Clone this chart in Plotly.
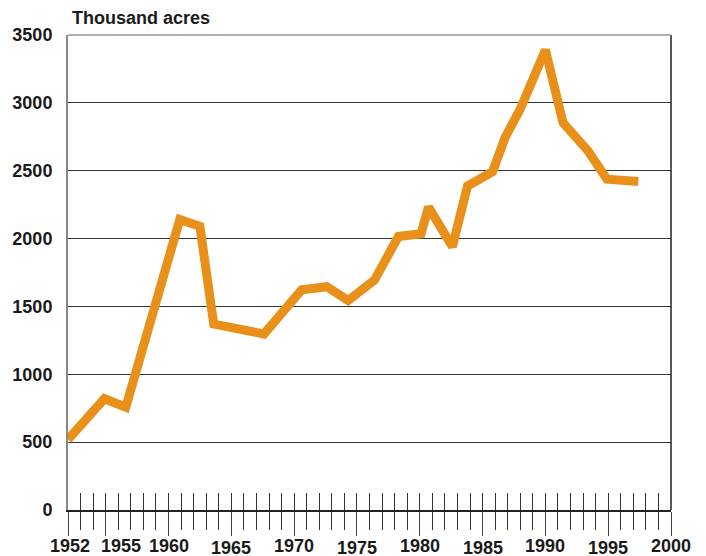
import plotly.graph_objects as go

# ---- data ----
years = [1952, 1954.9, 1956.6, 1960.9, 1962.5, 1963.6, 1967.6, 1970.6, 1972.6,
         1974.3, 1976.4, 1978.3, 1980.1, 1980.7, 1982.6, 1983.8, 1985.8, 1986.8,
         1988.0, 1990.0, 1991.4, 1993.4, 1994.9, 1997.4]
acres = [520, 820, 757, 2140, 2090, 1370, 1297, 1623, 1645,
         1543, 1695, 2015, 2035, 2232, 1940, 2387, 2493, 2746,
         2954, 3390, 2854, 2646, 2437, 2420]

y_ticks = [0, 500, 1000, 1500, 2000, 2500, 3000, 3500]
x_label_years = [1952, 1955, 1960, 1965, 1970, 1975, 1980, 1985, 1990, 1995, 2000]
x_major_ticks = [1952, 1955, 1960, 1965, 1970, 1975, 1980, 1985, 1990, 1995, 2000]
y_title = "Thousand acres"

FONT = "Liberation Sans, Arial, Helvetica, sans-serif"
TXT = "#1a1a1a"
FS = 18

fig = go.Figure()
fig.add_trace(go.Scatter(
    x=years, y=acres, mode="lines",
    line=dict(color="#E8901A", width=9),
    hoverinfo="x+y", showlegend=False,
))
# invisible companion trace so the overlay axis (inner tick marks) is drawn
fig.add_trace(go.Scatter(
    x=years, y=acres, mode="lines", xaxis="x2",
    line=dict(color="rgba(0,0,0,0)", width=0),
    hoverinfo="skip", showlegend=False,
))

annotations = []
# x tick labels, staggered as in the reference
for yr in x_label_years:
    low = yr in (1965, 1975, 1985, 1995)
    shift = 15 if yr == 1955 else (2 if yr == 1952 else 0)
    annotations.append(dict(
        x=yr, xref="x", y=0, yref="paper", yanchor="middle", xanchor="center",
        yshift=-37 if low else -35, xshift=shift,
        height=13, valign="middle", borderpad=0,
        text=str(yr), showarrow=False,
        font=dict(family=FONT, size=FS, color=TXT, weight="bold"),
    ))
annotations.append(dict(
    x=0, xref="paper", y=1, yref="paper", xanchor="left", yanchor="middle",
    xshift=2, yshift=17, text=y_title, showarrow=False,
    font=dict(family=FONT, size=FS, color=TXT, weight="bold"),
))

fig.update_layout(
    width=706, height=556,
    margin=dict(l=66, r=35, t=35, b=46),
    paper_bgcolor="white", plot_bgcolor="white",
    xaxis=dict(
        range=[1952, 2000], showgrid=False, zeroline=False,
        showline=True, linecolor="#222", linewidth=1.5,
        tickmode="array", tickvals=x_major_ticks, showticklabels=False,
        ticks="outside", ticklen=24, tickwidth=1, tickcolor="#444",
        minor=dict(ticks="outside", ticklen=18, dtick=1, tick0=1952,
                   tickwidth=1, tickcolor="#333", showgrid=False),
        fixedrange=True,
    ),
    xaxis2=dict(
        overlaying="x", anchor="y", side="bottom", range=[1952, 2000],
        showgrid=False, zeroline=False, showline=False,
        tick0=1952, dtick=1, ticks="inside", ticklen=17, tickwidth=1,
        tickcolor="#333", showticklabels=False, fixedrange=True,
    ),
    yaxis=dict(
        range=[0, 3500], tickmode="array", tickvals=y_ticks,
        showgrid=True, gridcolor="#333", gridwidth=1,
        zeroline=False, showline=True, linecolor="#888", linewidth=2,
        ticks="", ticklabelstandoff=10,
        tickfont=dict(family=FONT, size=FS, color=TXT, weight="bold"),
        fixedrange=True,
    ),
    shapes=[
        dict(type="line", xref="paper", yref="paper", x0=1, x1=1, y0=0, y1=1,
             line=dict(color="#222", width=1.5)),
        dict(type="line", xref="paper", yref="paper", x0=0, x1=1, y0=1, y1=1,
             line=dict(color="#999", width=1.5)),
    ],
    annotations=annotations,
)

fig.write_html(
    "out.html",
    config={"displayModeBar": False},
    post_script="document.body.style.margin='0';document.body.style.overflow='hidden';",
)
